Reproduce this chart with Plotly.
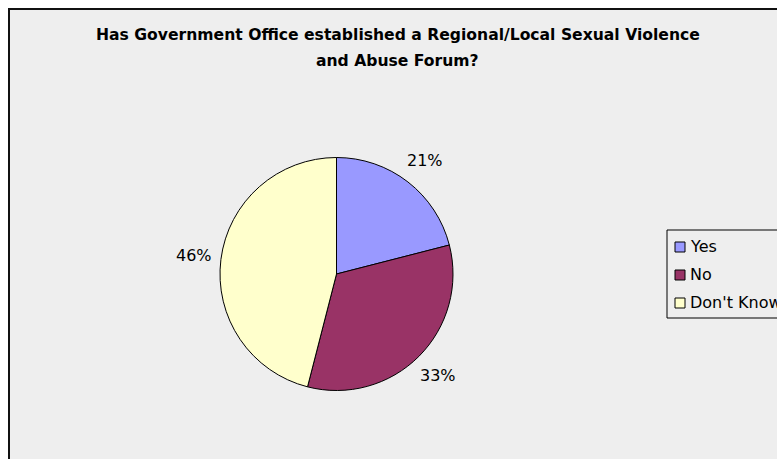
import math
import plotly.graph_objects as go

# Survey answers and their shares (%)
labels = ["Yes", "No", "Don't Know"]
shares = [21, 33, 46]
colors = ["#9999FF", "#993366", "#FFFFCC"]

title_lines = [
    "Has Government Office established a Regional/Local Sexual Violence",
    "and Abuse Forum?",
]

W, H = 777, 459
cx, cy, r = 336.5, 274, 116.5  # pie centre and radius in px (from top-left)
FONT = "DejaVu Sans"


def px(x):
    return x / W


def py(y):
    return 1 - y / H


fig = go.Figure()
fig.add_trace(go.Pie(
    labels=labels,
    values=shares,
    marker=dict(colors=colors, line=dict(color="black", width=1)),
    sort=False,
    direction="clockwise",
    rotation=0,
    textinfo="none",
    hoverinfo="label+percent",
    showlegend=False,
    domain=dict(x=[px(cx - r), px(cx + r)], y=[py(cy + r), py(cy - r)]),
))

annotations = []
shapes = []

# Chart area: light grey panel with a dark frame on the left and top
shapes.append(dict(
    type="rect", xref="paper", yref="paper",
    x0=px(9), x1=1.05, y0=-0.05, y1=py(9),
    fillcolor="#EEEEEE", line=dict(color="#111111", width=2), layer="below",
))

# Percentage labels placed outside each slice at its mid-angle
total = sum(shares)
acc = 0.0
label_r = 144
for v in shares:
    mid = (acc + v / 2) / total * 2 * math.pi
    acc += v
    x = cx + label_r * math.sin(mid)
    y = cy - label_r * math.cos(mid)
    annotations.append(dict(
        x=px(x), y=py(y), xref="paper", yref="paper",
        text=f"{round(v / total * 100)}%", showarrow=False,
        font=dict(family=FONT, size=16, color="black"),
        xanchor="center", yanchor="middle",
    ))

# Two-line bold title
for i, line in enumerate(title_lines):
    annotations.append(dict(
        x=px(397.5), y=py(35 + 26 * i), xref="paper", yref="paper",
        text=f"<b>{line}</b>", showarrow=False,
        font=dict(family=FONT, size=15.6, color="black"),
        xanchor="center", yanchor="middle",
    ))

# Legend box with square swatches
lx, ly_top, ly_bot = 667, 230, 318
shapes.append(dict(
    type="rect", xref="paper", yref="paper",
    x0=px(lx), x1=1.03, y0=py(ly_bot), y1=py(ly_top),
    fillcolor="#EEEEEE", line=dict(color="black", width=1),
))
row0, row_step, sw = 246, 28, 10
for i, (lab, col) in enumerate(zip(labels, colors)):
    yc = row0 + row_step * i
    shapes.append(dict(
        type="rect", xref="paper", yref="paper",
        x0=px(lx + 8), x1=px(lx + 8 + sw),
        y0=py(yc + 1 + sw / 2), y1=py(yc + 1 - sw / 2),
        fillcolor=col, line=dict(color="black", width=1),
    ))
    annotations.append(dict(
        x=px(lx + 21), y=py(yc), xref="paper", yref="paper",
        text=lab, showarrow=False,
        font=dict(family=FONT, size=16, color="black"),
        xanchor="left", yanchor="middle",
    ))

fig.update_layout(
    width=W, height=H,
    margin=dict(l=0, r=0, t=0, b=0, autoexpand=False),
    paper_bgcolor="white",
    plot_bgcolor="white",
    showlegend=False,
    annotations=annotations,
    shapes=shapes,
)

fig.write_html("out.html")
